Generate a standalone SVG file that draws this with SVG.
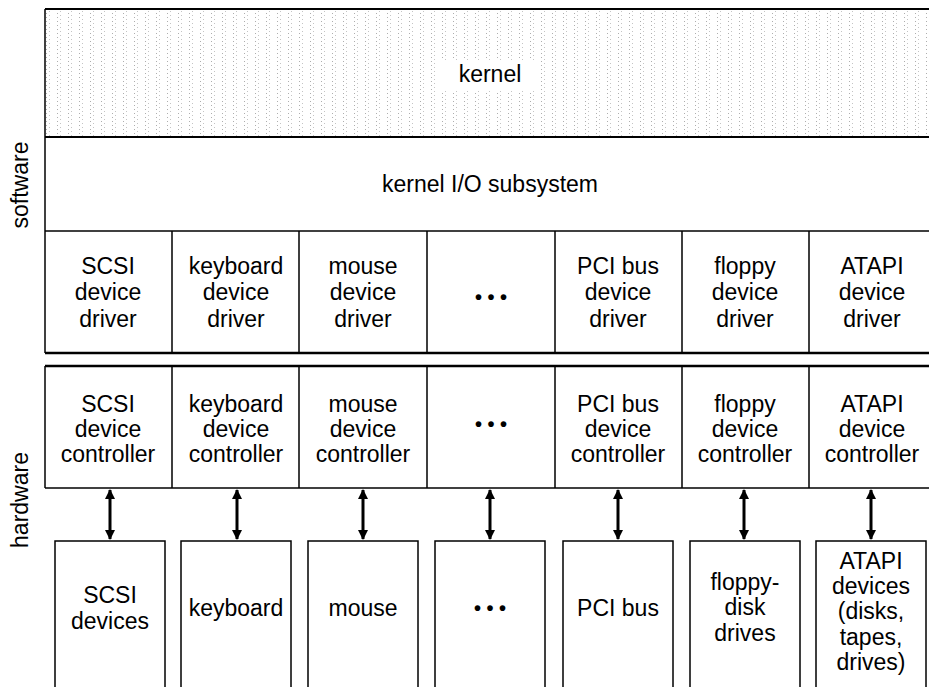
<svg xmlns="http://www.w3.org/2000/svg" width="929" height="687" viewBox="0 0 929 687">
<defs>
<style>
text{font-family:"Liberation Sans",Arial,Helvetica,sans-serif;fill:#000}
.t{font-size:23px;text-anchor:middle}
.side{font-size:23px;text-anchor:middle}
.box{fill:#fff;stroke:#000;stroke-width:1.5}
.ln{stroke:#000;fill:none}
.arr{stroke:#000;stroke-width:3;fill:none;marker-start:url(#ah);marker-end:url(#ah)}
.dots{font-size:20px;font-weight:bold;text-anchor:middle}
</style>
<pattern id="dot" width="11" height="4" patternUnits="userSpaceOnUse">
<rect x="2" y="1" width="1" height="1" fill="#9a9a9a"/>
<rect x="5" y="3" width="1" height="1" fill="#b5b5b5"/>
</pattern>
<marker id="ah" viewBox="0 0 10 10" refX="9" refY="5" markerWidth="3.6" markerHeight="3.4" orient="auto-start-reverse">
<path d="M0,0 L10,5 L0,10 Z" fill="#000"/>
</marker>
</defs>
<rect width="929" height="687" fill="#fff"/>

<g id="labels">
<text class="side" transform="translate(28,185) rotate(-90)">software</text>
<text class="side" transform="translate(28,500) rotate(-90)">hardware</text>
</g>

<g id="kernel">
<rect x="46" y="9" width="890" height="128" fill="url(#dot)" opacity="0.8"/>
<rect x="440" y="60" width="100" height="30" fill="#fff"/>
<text class="t" x="490" y="82">kernel</text>
</g>

<g id="io-subsystem">
<text class="t" x="490" y="192">kernel I/O subsystem</text>
</g>

<g id="frame">
<line class="ln" x1="45" y1="9" x2="935" y2="9" stroke-width="2"/>
<line class="ln" x1="45" y1="137" x2="935" y2="137" stroke-width="2"/>
<line class="ln" x1="45" y1="231" x2="935" y2="231" stroke-width="1.5"/>
<line class="ln" x1="45" y1="353" x2="935" y2="353" stroke-width="2.5"/>
<line class="ln" x1="45" y1="366" x2="935" y2="366" stroke-width="2.5"/>
<line class="ln" x1="45" y1="488" x2="935" y2="488" stroke-width="1.5"/>
<line class="ln" x1="45" y1="9" x2="45" y2="353" stroke-width="1.5"/>
<line class="ln" x1="45" y1="366" x2="45" y2="488" stroke-width="1.5"/>
<path class="ln" stroke-width="1.5" d="M172,231V353M299,231V353M427,231V353M555,231V353M682,231V353M809,231V353M172,366V488M299,366V488M427,366V488M555,366V488M682,366V488M809,366V488"/>
</g>

<g id="drv-scsi"><text class="t" x="108" y="274">SCSI</text><text class="t" x="108" y="300">device</text><text class="t" x="108" y="327">driver</text></g>
<g id="drv-keyboard"><text class="t" x="236" y="274">keyboard</text><text class="t" x="236" y="300">device</text><text class="t" x="236" y="327">driver</text></g>
<g id="drv-mouse"><text class="t" x="363" y="274">mouse</text><text class="t" x="363" y="300">device</text><text class="t" x="363" y="327">driver</text></g>
<g id="drv-more"><text class="dots" x="491" y="304">• • •</text></g>
<g id="drv-pci"><text class="t" x="618" y="274">PCI bus</text><text class="t" x="618" y="300">device</text><text class="t" x="618" y="327">driver</text></g>
<g id="drv-floppy"><text class="t" x="745" y="274">floppy</text><text class="t" x="745" y="300">device</text><text class="t" x="745" y="327">driver</text></g>
<g id="drv-atapi"><text class="t" x="872" y="274">ATAPI</text><text class="t" x="872" y="300">device</text><text class="t" x="872" y="327">driver</text></g>

<g id="ctl-scsi"><text class="t" x="108" y="412">SCSI</text><text class="t" x="108" y="437">device</text><text class="t" x="108" y="462">controller</text></g>
<g id="ctl-keyboard"><text class="t" x="236" y="412">keyboard</text><text class="t" x="236" y="437">device</text><text class="t" x="236" y="462">controller</text></g>
<g id="ctl-mouse"><text class="t" x="363" y="412">mouse</text><text class="t" x="363" y="437">device</text><text class="t" x="363" y="462">controller</text></g>
<g id="ctl-more"><text class="dots" x="491" y="431">• • •</text></g>
<g id="ctl-pci"><text class="t" x="618" y="412">PCI bus</text><text class="t" x="618" y="437">device</text><text class="t" x="618" y="462">controller</text></g>
<g id="ctl-floppy"><text class="t" x="745" y="412">floppy</text><text class="t" x="745" y="437">device</text><text class="t" x="745" y="462">controller</text></g>
<g id="ctl-atapi"><text class="t" x="872" y="412">ATAPI</text><text class="t" x="872" y="437">device</text><text class="t" x="872" y="462">controller</text></g>

<g id="connectors">
<line class="arr" x1="110" y1="490" x2="110" y2="539"/>
<line class="arr" x1="237" y1="490" x2="237" y2="539"/>
<line class="arr" x1="363" y1="490" x2="363" y2="539"/>
<line class="arr" x1="490" y1="490" x2="490" y2="539"/>
<line class="arr" x1="618" y1="490" x2="618" y2="539"/>
<line class="arr" x1="744" y1="490" x2="744" y2="539"/>
<line class="arr" x1="871" y1="490" x2="871" y2="539"/>
</g>

<g id="dev-scsi"><rect class="box" x="55" y="541" width="110" height="160"/><text class="t" x="110" y="603">SCSI</text><text class="t" x="110" y="629">devices</text></g>
<g id="dev-keyboard"><rect class="box" x="181" y="541" width="110" height="160"/><text class="t" x="236" y="616">keyboard</text></g>
<g id="dev-mouse"><rect class="box" x="308" y="541" width="110" height="160"/><text class="t" x="363" y="616">mouse</text></g>
<g id="dev-more"><rect class="box" x="435" y="541" width="110" height="160"/><text class="dots" x="490" y="615">• • •</text></g>
<g id="dev-pci"><rect class="box" x="563" y="541" width="110" height="160"/><text class="t" x="618" y="616">PCI bus</text></g>
<g id="dev-floppy"><rect class="box" x="690" y="541" width="110" height="160"/><text class="t" x="745" y="590">floppy-</text><text class="t" x="745" y="615">disk</text><text class="t" x="745" y="641">drives</text></g>
<g id="dev-atapi"><rect class="box" x="816" y="541" width="110" height="160"/><text class="t" x="871" y="569">ATAPI</text><text class="t" x="871" y="594">devices</text><text class="t" x="871" y="619">(disks,</text><text class="t" x="871" y="645">tapes,</text><text class="t" x="871" y="670">drives)</text></g>
</svg>
